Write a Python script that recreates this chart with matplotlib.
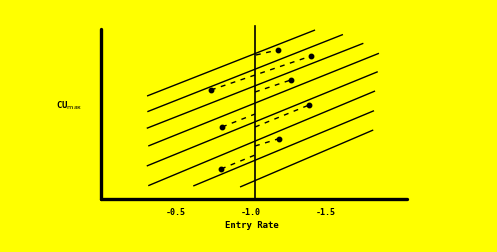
import matplotlib
matplotlib.use('Agg')
import matplotlib.pyplot as plt

# x in entry-rate units (axis runs from 0 down to -2.04), y in arbitrary units
# solid parallel lines: (x0, y0, x1, y1)
line_x0 = [-0.307, -0.309, -0.305, -0.315, -0.305, -0.315, -0.615, -0.927]
line_y0 = [10.3, 8.73, 7.07, 5.3, 3.3, 1.33, 1.3, 1.2]
line_x1 = [-1.427, -1.613, -1.749, -1.853, -1.845, -1.827, -1.82, -1.815]
line_y1 = [16.9, 16.45, 15.57, 14.57, 12.73, 10.8, 8.83, 6.9]

# observed points
pt_x = [-1.178, -1.4, -1.265, -0.733, -1.387, -0.807, -1.185, -0.8]
pt_y = [14.9, 14.3, 11.9, 10.9, 9.4, 7.2, 6.03, 3.0]

# dashed connectors
dash_x0 = [-0.733, -1.033, -1.027, -0.807, -1.027, -1.027, -0.8]
dash_y0 = [10.9, 14.4, 10.7, 7.2, 7.2, 5.3, 3.0]
dash_x1 = [-1.4, -1.178, -1.265, -1.027, -1.387, -1.185, -1.027]
dash_y1 = [14.3, 14.9, 11.9, 8.5, 9.4, 6.03, 4.4]

cutoff = -1.027
xticks = [-0.5, -1.0, -1.5]
xtick_labels = ['-0.5', '-1.0', '-1.5']

yellow = '#ffff00'
fig = plt.figure(figsize=(4.97, 2.52), dpi=100, facecolor=yellow)
ax = fig.add_axes([101 / 497, 1 - 199 / 252, 306 / 497, 170 / 252])
ax.set_facecolor(yellow)

for x0, y0, x1, y1 in zip(line_x0, line_y0, line_x1, line_y1):
    ax.plot([x0, x1], [y0, y1], color='black', lw=1.0, solid_capstyle='butt')

for x0, y0, x1, y1 in zip(dash_x0, dash_y0, dash_x1, dash_y1):
    ax.plot([x0, x1], [y0, y1], color='black', lw=1.0, dashes=(3.5, 4))

ax.plot(pt_x, pt_y, 'o', color='black', ms=3.2)

ax.plot([cutoff, cutoff], [0, 17.3], color='black', lw=1.2, clip_on=False)

ax.set_xlim(0, -2.04)
ax.set_ylim(0, 17)

for s in ['top', 'right']:
    ax.spines[s].set_visible(False)
for s in ['left', 'bottom']:
    ax.spines[s].set_linewidth(2.4)
    ax.spines[s].set_capstyle('round')

ax.set_yticks([])
ax.set_xticks(xticks)
ax.set_xticklabels(xtick_labels, family='DejaVu Sans Mono', fontweight='bold', fontsize=6)
ax.tick_params(axis='x', length=0, pad=6.5)

fig.text(252 / 497, 1 - 226 / 252, 'Entry Rate', ha='center', va='center',
         family='DejaVu Sans Mono', fontweight='bold', fontsize=6.5)
fig.text(69 / 497, 1 - 106 / 252, r'CU$_{\mathrm{max}}$', ha='center', va='center',
         family='DejaVu Sans Mono', fontweight='bold', fontsize=6.5)

fig.savefig('out.png', dpi=100, facecolor=yellow)
